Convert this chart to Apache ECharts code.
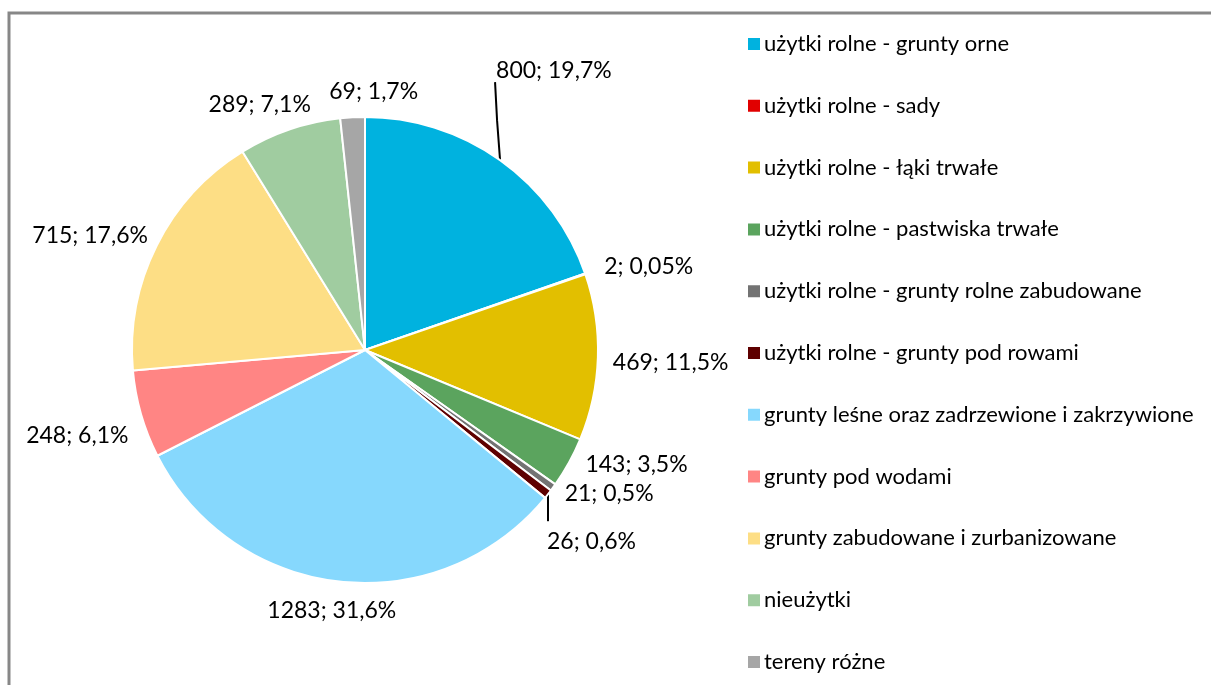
<!DOCTYPE html>
<html>
<head>
<meta charset="utf-8">
<script src="https://cdn.jsdelivr.net/npm/echarts@6/dist/echarts.min.js"></script>
<style>
  html, body { margin: 0; padding: 0; background: #fff; }
  #main { width: 1211px; height: 685px; }
</style>
</head>
<body>
<div id="main"></div>
<script>
// kategorie i wartości
var categories = [
    'użytki rolne - grunty orne',
    'użytki rolne - sady',
    'użytki rolne - łąki trwałe',
    'użytki rolne - pastwiska trwałe',
    'użytki rolne - grunty rolne zabudowane',
    'użytki rolne - grunty pod rowami',
    'grunty leśne oraz zadrzewione i zakrzywione',
    'grunty pod wodami',
    'grunty zabudowane i zurbanizowane',
    'nieużytki',
    'tereny różne'
];
var values = [800, 2, 469, 143, 21, 26, 1283, 248, 715, 289, 69];
var colors = ['#00B2DF', '#E10000', '#E2BF00', '#5BA45E', '#737373', '#5E0000',
              '#86D8FD', '#FF8584', '#FDDE85', '#A0CCA0', '#A6A6A6'];

var CX = 365, CY = 350, R = 233;   // środek i promień koła
var total = values.reduce(function (a, b) { return a + b; }, 0);

// drobne przesunięcia etykiet (jak ręcznie poprawione w Excelu) [dx, dy]
var labelNudge = [[0, 0], [12, 0], [5, 5], [14, -8], [12, -7], [0, 0],
                  [0, 8], [-5, 15], [-6, 0], [-10, -5], [24, -4]];

// kąt środka wycinka (od godziny 12, zgodnie z zegarem)
var midAngles = [];
var cum = 0;
values.forEach(function (v) {
    midAngles.push((cum + v / 2) / total * 2 * Math.PI);
    cum += v;
});

function fmtPct(v) {
    var p = v / total * 100;
    var s = p < 0.1 ? p.toFixed(2) : p.toFixed(1);
    return s.replace('.', ',') + '%';
}

function edgePoint(i, r) {
    var a = midAngles[i];
    return [CX + r * Math.sin(a), CY - r * Math.cos(a)];
}

var pieData = values.map(function (v, i) {
    return {
        name: categories[i],
        value: v,
        itemStyle: { color: colors[i] }
    };
});

var myChart = echarts.init(document.getElementById('main'));
var option = {
    backgroundColor: '#fff',
    animation: false,
    graphic: [{
        type: 'rect',
        shape: { x: 9, y: 13, width: 1400, height: 900 },
        style: { fill: 'none', stroke: '#878787', lineWidth: 3 },
        silent: true
    }],
    legend: {
        orient: 'vertical',
        left: 741,
        top: 28,
        height: 660,
        itemWidth: 14,
        itemHeight: 14,
        itemGap: 39.8,
        icon: 'rect',
        textStyle: {
            fontFamily: 'Lato, "Open Sans", sans-serif',
            fontSize: 22,
            lineHeight: 22,
            color: '#000',
            padding: [0, 0, 0, -2]
        },
        data: categories
    },
    series: [{
        type: 'pie',
        center: [CX, CY],
        radius: R,
        startAngle: 90,
        clockwise: true,
        avoidLabelOverlap: false,
        itemStyle: { borderColor: '#fff', borderWidth: 2 },
        label: {
            show: true,
            position: 'outside',
            fontFamily: 'Lato, "Open Sans", sans-serif',
            fontSize: 23,
            color: '#000',
            formatter: function (p) {
                return p.value + '; ' + fmtPct(p.value);
            }
        },
        labelLine: {
            show: true,
            length: 10,
            length2: 0,
            lineStyle: { color: '#000', width: 2 }
        },
        // etykiety jak w Excelu: "na zewnątrz, koniec"
        labelLayout: function (params) {
            var i = params.dataIndex;
            var w = params.labelRect.width, h = params.labelRect.height;
            var a = midAngles[i];
            if (i === 0) {
                var e = edgePoint(i, R);
                return {
                    x: e[0] - 4, y: e[1] - 78,
                    align: 'left', verticalAlign: 'bottom',
                    labelLinePoints: [e, [e[0] - 3, e[1] - 40], [e[0] - 5, e[1] - 78]]
                };
            }
            if (i === 5) {
                var e2 = edgePoint(i, R);
                return {
                    x: e2[0] - 1, y: e2[1] + 36,
                    align: 'left', verticalAlign: 'top',
                    labelLinePoints: [e2, [e2[0], e2[1] + 13], [e2[0], e2[1] + 27]]
                };
            }
            var p = edgePoint(i, R + 10);
            return {
                x: p[0] + w / 2 * Math.sin(a) + labelNudge[i][0],
                y: p[1] - h / 2 * Math.cos(a) + labelNudge[i][1],
                align: 'center', verticalAlign: 'middle',
                labelLinePoints: [[0, 0], [0, 0], [0, 0]]
            };
        },
        data: pieData
    }]
};
myChart.setOption(option);
</script>
</body>
</html>
